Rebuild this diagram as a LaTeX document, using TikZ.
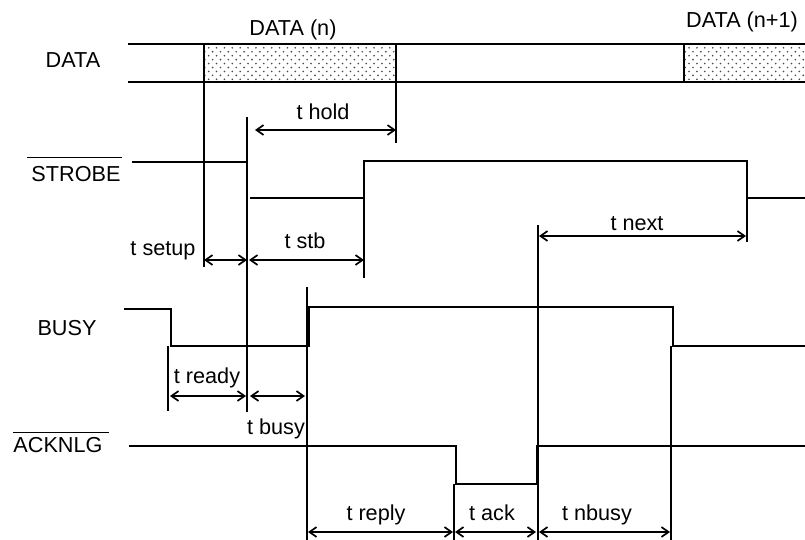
\documentclass[tikz,border=0pt]{standalone}
\usepackage{fontspec}
\setmainfont{Liberation Sans}
\usetikzlibrary{arrows.meta,patterns}

\pgfdeclarepatternformonly{sparse dots}{\pgfqpoint{-1pt}{-1pt}}{\pgfqpoint{6.6pt}{6.6pt}}{\pgfqpoint{5.6pt}{5.6pt}}{
  \pgfpathcircle{\pgfqpoint{0pt}{0pt}}{.65pt}
  \pgfpathcircle{\pgfqpoint{2.8pt}{2.8pt}}{.65pt}
  \pgfusepath{fill}}

\begin{document}
\begin{tikzpicture}[x=0.025cm,y=-0.025cm,
  sig/.style={line width=1.4pt},
  thin/.style={line width=1.1pt},
  box/.style={line width=1.8pt},
  dots/.style={pattern=sparse dots,pattern color=black!70},
  dim/.style={line width=1.2pt,{Straight Barb[length=5pt,width=7pt]}-{Straight Barb[length=5pt,width=7pt]}},
  lbl/.style={anchor=base,inner sep=0pt,font=\fontsize{15.4}{18}\selectfont}]
  \useasboundingbox (0,0) rectangle (805,540);

  % signal names
  \node[lbl] (data) at (73,67) {DATA};
  \node[lbl] (strobe) at (76,181) {STROBE};
  \node[lbl] (busy) at (67,335) {BUSY};
  \node[lbl] (ack) at (58,452) {ACKNLG};
  \draw[thin] ([shift={(-4,-8)}]strobe.north west) -- ([shift={(1,-8)}]strobe.north east);
  \draw[thin] ([shift={(0,-4)}]ack.north west) -- ([shift={(6,-4)}]ack.north east);

  % DATA
  \node[lbl] (dn) at (293,35) {DATA (n)};
  \node[lbl] (dn1) at (742,27) {DATA (n+1)};
  \draw[thin] (128,44) -- (805,44);
  \draw[thin] (128,82) -- (805,82);
  \draw[box,dots] (204,44) rectangle (396,82);
  \fill[dots] (684,44) rectangle (805,82);
  \draw[box] (805,44) -| (684,82) -- (805,82);

  % STROBE
  \draw[sig] (132,162) -- (247,162);
  \draw[sig] (250,198) -| (364,161) -| (747,198) -- (805,198);
  \draw[sig] (364,198) -- (364,278);
  \draw[sig] (747,198) -- (747,242);

  % BUSY
  \draw[sig] (124,309) -| (171,346) -- (309,346) |- (673,307) |- (805,346);

  % ACKNLG
  \draw[sig] (129,446) -| (456,484) -| (537,446) -- (805,446);

  % edge markers
  \draw[sig] (204,82) -- (204,267);
  \draw[sig] (396,82) -- (396,143);
  \draw[sig] (247,117) -- (247,412);
  \draw[sig] (168,346) -- (168,411);
  \draw[sig] (307,287) -- (307,540);
  \draw[sig] (671,346) -- (671,540);
  \draw[sig] (454,484) -- (454,540);
  \draw[sig] (538,225) -- (538,540);

  % timings
  \draw[dim] (255,130) -- (396,130);
  \node[lbl] (thold) at (323,119) {t hold};
  \draw[dim] (204,260) -- (247,260);
  \node[lbl] (tsetup) at (163,255) {t setup};
  \draw[dim] (249,260) -- (364,260);
  \node[lbl] (tstb) at (305,248) {t stb};
  \draw[dim] (539,236) -- (746,236);
  \node[lbl] (tnext) at (637,230) {t next};
  \draw[dim] (170,396) -- (246,396);
  \node[lbl] (tready) at (207,383) {t ready};
  \draw[dim] (250,396) -- (305,396);
  \node[lbl] (tbusy) at (276,434) {t busy};
  \draw[dim] (308,532) -- (453,532);
  \node[lbl] (treply) at (376,520) {t reply};
  \draw[dim] (455,532) -- (536,532);
  \node[lbl] (tack) at (492,520) {t ack};
  \draw[dim] (539,532) -- (670,532);
  \node[lbl] (tnbusy) at (597,520) {t nbusy};
\end{tikzpicture}
\end{document}
